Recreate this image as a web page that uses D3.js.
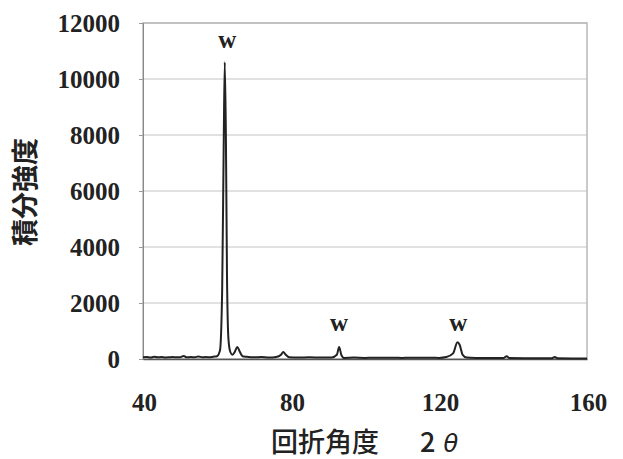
<!DOCTYPE html>
<html>
<head>
<meta charset="utf-8">
<script src="https://cdn.jsdelivr.net/npm/d3@7/dist/d3.min.js"></script>
<style>
  body { margin: 0; background: #fff; }
  svg { display: block; }
</style>
</head>
<body>
<div id="chart"></div>
<script>
// 2θ (deg) and integrated intensity
const angles = [40, 41, 42, 43, 44, 45, 46, 47, 48, 49, 50, 51, 51.8, 53, 54, 55, 56, 57, 58, 59,
  60, 60.8, 61.4, 61.8, 62.1, 62.4, 62.7, 63.1, 63.6, 64.2, 64.8, 65.5, 66.2, 66.9, 68, 70, 72, 74, 76,
  77.3, 77.9, 78.6, 79.5, 82, 85, 88, 91, 92.4, 93, 93.6, 94.3, 97, 100, 105, 110, 115, 120, 122,
  123.8, 125, 125.6, 126.4, 127.5, 130, 135, 137.5, 138.3, 139, 143, 147, 150.5, 151.3, 152, 156, 160];
const intensity = [60, 70, 50, 80, 60, 70, 55, 60, 70, 60, 65, 110, 60, 70, 60, 90, 60, 70, 60, 80,
  100, 300, 2500, 7500, 10600, 8000, 3000, 700, 250, 150, 250, 430, 250, 100, 80, 60, 70, 50, 70,
  150, 250, 150, 60, 50, 60, 50, 55, 150, 430, 150, 40, 50, 40, 45, 40, 45, 40, 70,
  200, 600, 500, 150, 50, 40, 35, 40, 100, 35, 30, 25, 30, 70, 25, 20, 15];

const xTicks = [40, 80, 120, 160];
const yTicks = [0, 2000, 4000, 6000, 8000, 10000, 12000];

// peak markers (phase: W), placed at the given intensity level
const peakLabels = [
  { angle: 62.8, labelAt: 11100, text: "w" },
  { angle: 93, labelAt: 1000, text: "w" },
  { angle: 125.2, labelAt: 1000, text: "w" }
];

const width = 623, height = 459;
const margin = { top: 23, right: 36, bottom: 100, left: 143 };
const plotW = width - margin.left - margin.right;
const plotH = height - margin.top - margin.bottom;

const svg = d3.select("#chart").append("svg")
  .attr("width", width)
  .attr("height", height);

const g = svg.append("g")
  .attr("transform", `translate(${margin.left},${margin.top})`);

const x = d3.scaleLinear().domain([40, 160]).range([0, plotW]);
const y = d3.scaleLinear().domain([0, 12000]).range([plotH, 0]);

const serif = "'Liberation Serif', 'DejaVu Serif', serif";

// gridlines
g.append("g").selectAll("line")
  .data(yTicks.filter(d => d > 0))
  .join("line")
  .attr("x1", 0).attr("x2", plotW)
  .attr("y1", d => y(d)).attr("y2", d => y(d))
  .attr("stroke", "#c4c4c4")
  .attr("stroke-width", 1.2);

// plot frame
g.append("rect")
  .attr("x", 0).attr("y", 0)
  .attr("width", plotW).attr("height", plotH)
  .attr("fill", "none")
  .attr("stroke", "#b8b8b8")
  .attr("stroke-width", 1.5);

// y axis
const yAxis = g.append("g")
  .call(d3.axisLeft(y).tickValues(yTicks).tickSize(4).tickPadding(19).tickFormat(d3.format("d")));
yAxis.select(".domain").attr("stroke", "#888");
yAxis.selectAll(".tick line").attr("stroke", "#999");
yAxis.selectAll("text")
  .attr("font-family", serif)
  .attr("font-weight", "bold")
  .attr("font-size", 25)
  .attr("fill", "#222");

// x axis
const xAxis = g.append("g")
  .attr("transform", `translate(0,${plotH})`)
  .call(d3.axisBottom(x).tickValues(xTicks).tickSize(0).tickPadding(34));
xAxis.select(".domain").attr("stroke", "#555").attr("stroke-width", 1.5);
xAxis.selectAll("text")
  .attr("font-family", serif)
  .attr("font-weight", "bold")
  .attr("font-size", 25)
  .attr("fill", "#222")
  .attr("dx", 1);

// pattern line
const pts = angles.map((a, i) => ({ a, v: intensity[i] }));
const line = d3.line()
  .x(d => x(d.a))
  .y(d => y(d.v))
  .curve(d3.curveMonotoneX);

g.append("path")
  .datum(pts)
  .attr("d", line)
  .attr("fill", "none")
  .attr("stroke", "#222")
  .attr("stroke-width", 2)
  .attr("stroke-linejoin", "round");

// peak labels
g.selectAll(".peak")
  .data(peakLabels)
  .join("text")
  .attr("class", "peak")
  .attr("x", d => x(d.angle))
  .attr("y", d => y(d.labelAt))
  .attr("text-anchor", "middle")
  .attr("font-family", serif)
  .attr("font-weight", "bold")
  .attr("font-size", 25)
  .attr("fill", "#222")
  .text(d => d.text);

// axis titles
svg.append("text")
  .attr("transform", `translate(35,${margin.top + 169}) rotate(-90)`)
  .attr("text-anchor", "middle")
  .attr("font-family", "'Noto Sans CJK JP', sans-serif")
  .attr("font-weight", "bold")
  .attr("font-size", 27)
  .attr("fill", "#222")
  .text("積分強度");

const xt = svg.append("text")
  .attr("x", 271)
  .attr("y", 452)
  .attr("font-family", "'Noto Sans CJK JP', sans-serif")
  .attr("font-weight", 500)
  .attr("font-size", 27)
  .attr("fill", "#222");
xt.append("tspan").text("回折角度");
xt.append("tspan").attr("x", 420).text("2");
xt.append("tspan").attr("dx", 8).attr("font-style", "italic")
  .attr("font-family", "'DejaVu Sans', sans-serif").attr("font-size", 24).text("θ");
</script>
</body>
</html>
